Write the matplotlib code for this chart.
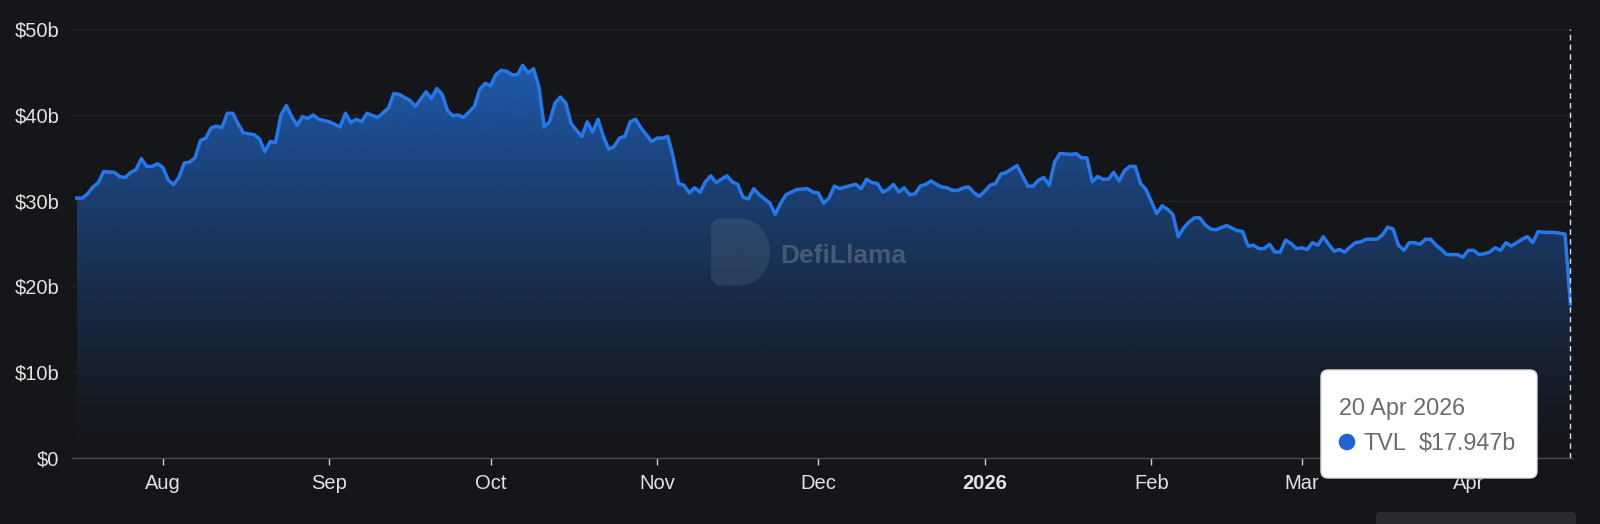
import numpy as np
import pandas as pd
import matplotlib
matplotlib.use("Agg")
import matplotlib.pyplot as plt
import matplotlib.dates as mdates
from matplotlib.colors import to_rgb
from matplotlib.patches import FancyBboxPatch, Circle, Polygon
from matplotlib.transforms import IdentityTransform

plt.rcParams['font.family'] = ['Liberation Sans', 'DejaVu Sans']

# TVL in $bn (days counted from the start date)
START = "2025-07-16"
day_offsets = [
    0, 1, 2, 3, 4, 5, 7, 8, 9, 10, 11, 12, 13, 14, 15,              # Jul
    16, 17, 18, 19, 20, 21, 22, 23, 24, 25, 26, 27, 28, 29, 30, 31,
    33, 34, 35, 36, 37, 38, 39, 40, 41, 42, 43, 44, 45,             # Aug
    47, 48, 49, 50, 51, 52, 53, 54, 56, 58, 59, 60, 62, 63, 65, 66,
    67, 68, 69, 70, 71, 72, 74, 75, 76,                             # Sep
    77, 78, 79, 80, 81, 82, 83, 84, 85, 86, 87, 88, 89, 90, 91, 92,
    93, 94, 95, 96, 97, 98, 99, 100, 101, 102, 103, 104, 105, 106, 107,  # Oct
    108, 109, 110, 111, 112, 113, 114, 115, 116, 117, 118, 119, 121, 122,
    123, 124, 125, 126, 127, 129, 130, 131, 132, 134, 136, 137,     # Nov
    138, 139, 140, 141, 142, 143, 145, 146, 147, 148, 149, 150, 151, 152,
    153, 154, 155, 156, 157, 158, 159, 160, 161, 162, 163, 164, 165,
    166, 167, 168,                                                  # Dec
    169, 170, 171, 172, 173, 174, 175, 176, 177, 178, 179, 180, 181, 182,
    183, 185, 186, 187, 188, 189, 190, 191, 192, 193, 194, 195, 196, 197,
    198, 199,                                                       # Jan
    200, 201, 202, 203, 204, 205, 206, 207, 208, 209, 210, 211, 212, 214,
    216, 217, 218, 219, 220, 221, 222, 223, 224, 225, 226, 227,     # Feb
    228, 229, 230, 231, 232, 233, 234, 235, 236, 237, 238, 239, 240, 241,
    242, 243, 244, 245, 246, 247, 248, 249, 250, 251, 252, 253, 254, 255,
    256, 257, 258,                                                  # Mar
    259, 260, 261, 262, 263, 264, 265, 266, 267, 268, 269, 270, 271, 272,
    273, 274, 275, 276, 277, 278,                                   # Apr
]
tvl_bn = [
    30.3, 30.3, 30.8, 31.6, 32.1, 33.4, 33.3, 32.8, 32.7, 33.3, 33.6, 34.9, 34.0, 34.0, 34.3,
    33.9, 32.4, 31.9, 32.7, 34.4, 34.5, 35.0, 37.0, 37.3, 38.5, 38.7, 38.5, 40.2, 40.2, 39.0, 37.9,
    37.7, 37.2, 35.7, 36.9, 36.8, 40.0, 41.1, 39.8, 38.8, 39.8, 39.6, 40.0, 39.5,
    39.2, 38.9, 38.6, 40.2, 39.1, 39.5, 39.2, 40.2, 39.7, 40.8, 42.5, 42.4, 41.7, 41.0, 42.7, 41.9,
    43.1, 42.4, 40.5, 39.9, 40.0, 39.7, 41.0, 43.0, 43.7,
    43.4, 44.7, 45.2, 45.1, 44.7, 44.7, 45.8, 44.9, 45.4, 43.3, 38.6, 39.2, 41.4, 42.1, 41.4, 39.0,
    38.2, 37.5, 39.2, 38.0, 39.5, 37.5, 36.0, 36.3, 37.3, 37.5, 39.2, 39.5, 38.5, 37.7, 36.9,
    37.3, 37.3, 37.5, 35.1, 32.0, 31.8, 30.9, 31.5, 31.0, 32.2, 32.9, 32.1, 32.9, 32.2,
    31.9, 30.4, 30.2, 31.4, 30.7, 29.7, 28.4, 29.7, 30.7, 31.3, 31.4, 31.0,
    30.9, 29.7, 30.3, 31.7, 31.4, 31.6, 31.9, 31.4, 32.5, 32.1, 32.0, 31.0, 31.3, 31.9,
    31.0, 31.5, 30.7, 30.8, 31.7, 31.9, 32.3, 31.9, 31.6, 31.5, 31.2, 31.2, 31.5,
    31.6, 30.9, 30.5,
    31.1, 31.8, 32.0, 33.1, 33.3, 33.7, 34.1, 32.9, 31.7, 31.7, 32.4, 32.7, 31.8, 34.5,
    35.5, 35.4, 35.5, 35.0, 35.0, 32.2, 32.8, 32.5, 32.5, 33.3, 32.3, 33.5, 34.0, 34.0,
    32.0, 31.3,
    29.9, 28.5, 29.4, 29.0, 28.4, 25.8, 26.8, 27.5, 28.0, 28.0, 27.2, 26.7, 26.6, 27.1,
    26.5, 26.4, 24.7, 24.8, 24.4, 24.4, 24.9, 24.0, 24.0, 25.4, 25.0, 24.4,
    24.5, 24.3, 25.1, 24.8, 25.8, 24.9, 24.1, 24.3, 24.0, 24.6, 25.1, 25.2, 25.5, 25.5,
    25.5, 26.0, 26.9, 26.7, 24.8, 24.2, 25.1, 25.1, 24.9, 25.5, 25.5, 24.8, 24.3, 23.7,
    23.7, 23.7, 23.4,
    24.2, 24.2, 23.7, 23.8, 24.0, 24.5, 24.2, 25.1, 24.7, 25.1, 25.5, 25.8, 25.1, 26.4,
    26.3, 26.3, 26.3, 26.2, 26.1, 17.947,
]
y_ticks = [0, 10, 20, 30, 40, 50]
month_ticks = ["2025-08-01", "2025-09-01", "2025-10-01", "2025-11-01", "2025-12-01",
               "2026-01-01", "2026-02-01", "2026-03-01", "2026-04-01"]
month_labels = ["Aug", "Sep", "Oct", "Nov", "Dec", "2026", "Feb", "Mar", "Apr"]
tooltip_date = "20 Apr 2026"
tooltip_value = "$17.947b"

BG = "#151619"
LINE = "#2478ec"
H = 524  # figure height in px, for placing decorations by pixel

dates = pd.Timestamp(START) + pd.to_timedelta(day_offsets, unit="D")
x = mdates.date2num(dates)
y = np.array(tvl_bn)

fig = plt.figure(figsize=(16, 5.24), dpi=100, facecolor=BG)
ax = fig.add_axes([0.045, 0.1265, 0.9375, 0.8176])
ax.set_facecolor(BG)
ax.set_axisbelow(True)

# opaque base so the grid does not show through, then the gradient on top
area = ax.fill_between(x, y, 0, color=BG, lw=0, zorder=0.8)
n = 256
frac = np.linspace(1, 0, n) ** 1.3
grad = np.zeros((n, 1, 4))
grad[..., :3] = to_rgb(LINE)
grad[:, 0, 3] = 0.7 * frac
im = ax.imshow(grad, extent=[x[0], x[-1], 0, y.max()], aspect="auto",
               origin="upper", zorder=1, interpolation="bilinear")
im.set_clip_path(area.get_paths()[0], transform=ax.transData)

ax.plot(x, y, color=LINE, lw=2.5, zorder=4, solid_joinstyle="round")

# hover line at the last point
ax.axvline(x[-1], color="#dddddd", lw=1, ls=(0, (4, 3)), zorder=5)

ax.set_xlim(x[0] - 0.9, x[-1] + 0.3)
ax.set_ylim(0, 50)

ax.set_yticks(y_ticks)
ax.set_yticklabels(["$0" if v == 0 else f"${v}b" for v in y_ticks])
ax.grid(axis="y", color="#222327", lw=1)
ax.tick_params(axis="y", length=0, pad=9, labelsize=14.5, labelcolor="#e2e2e2")

ax.set_xticks(mdates.date2num(pd.to_datetime(month_ticks)))
ax.set_xticklabels(month_labels)
ax.tick_params(axis="x", length=5, width=1, color="#cfcfcf", pad=7,
               labelsize=14.5, labelcolor="#e2e2e2")
for lab in ax.get_xticklabels():
    if lab.get_text() == "2026":
        lab.set_fontweight("bold")

for side in ["top", "right", "left"]:
    ax.spines[side].set_visible(False)
ax.spines["bottom"].set_color("#4d4d4f")
ax.spines["bottom"].set_linewidth(1)

# DefiLlama watermark: a "D" badge plus the name
px = IdentityTransform()
t = np.linspace(np.pi / 2, -np.pi / 2, 40)
d_right = np.column_stack([741 + 29 * np.cos(t), (H - 252) + 33.5 * np.sin(t)])
d_shape = np.vstack([[[717, H - 218.5]], d_right,
                     [[717, H - 285.5], [711, H - 279], [711, H - 225]]])
fig.add_artist(Polygon(d_shape, closed=True, transform=px, fc="#9aa6bb", ec="none",
                       alpha=0.14, zorder=3))
fig.text(780 / 1600, 1 - 256 / H, "DefiLlama", fontsize=19, fontweight="bold",
         color="#8e99ad", alpha=0.38, va="center", ha="left", zorder=3)

# tooltip box
fig.add_artist(FancyBboxPatch((1322, H - 480), 216, 109,
                              boxstyle="round,pad=0,rounding_size=7",
                              transform=px, fc="#000000", ec="none", alpha=0.25, zorder=9))
fig.add_artist(FancyBboxPatch((1321, H - 478), 216, 108,
                              boxstyle="round,pad=0,rounding_size=7",
                              transform=px, fc="white", ec="#dddddd", lw=1, zorder=10))
fig.text(1339 / 1600, 1 - 415 / H, tooltip_date, fontsize=16.8, color="#6b6b6b",
         va="baseline", ha="left", zorder=11)
fig.add_artist(Circle((1347, H - 442), 8.3, transform=px, fc="#1f63d4", ec="none", zorder=11))
fig.text(1363 / 1600, 1 - 450 / H, "TVL", fontsize=16.8, color="#6b6b6b",
         va="baseline", ha="left", zorder=11)
fig.text(1419 / 1600, 1 - 450 / H, tooltip_value, fontsize=16.8, color="#6b6b6b",
         va="baseline", ha="left", zorder=11)

# bottom scroll strip
fig.add_artist(FancyBboxPatch((1376, -6), 200, 18, boxstyle="round,pad=0,rounding_size=4",
                              transform=px, fc="#2a2b2f", ec="none", zorder=2))

fig.savefig("out.png", dpi=100, facecolor=BG)
